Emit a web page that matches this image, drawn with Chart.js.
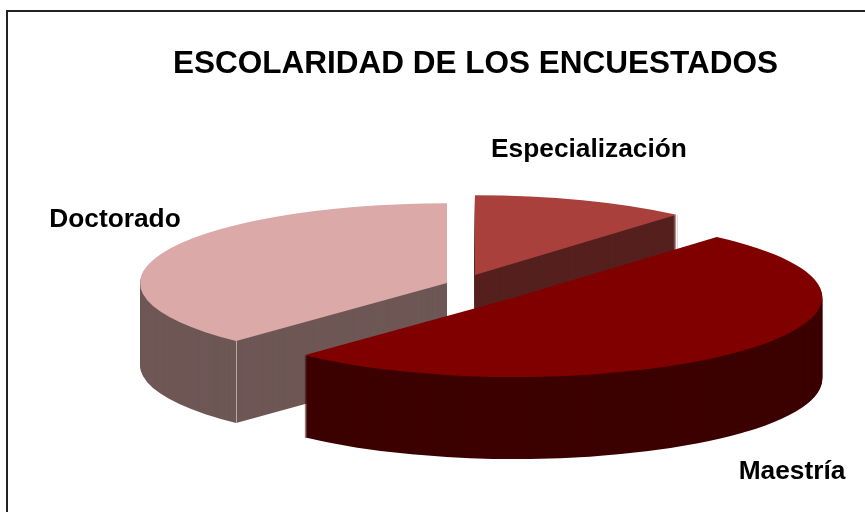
<!DOCTYPE html>
<html>
<head>
<meta charset="utf-8">
<style>html,body{margin:0;padding:0;background:#fff}canvas{display:block}</style>
<script src="https://cdn.jsdelivr.net/npm/chart.js@4"></script>
</head>
<body>
<canvas id="c" width="865" height="512"></canvas>
<script>
const categories = ['Especialización', 'Maestría', 'Doctorado'];
const shares = [11.4, 50.65, 37.95];
const chartTitle = 'ESCOLARIDAD DE LOS ENCUESTADOS';

const topColors = ['#AA403C', '#800000', '#DCA9A9'];
const sideColors = ['#55201E', '#3C0000', '#6E5755'];
const explode = [38.7, 72.7, 15.5];
const drawOrder = [0, 2, 1];
const labelPlaces = [[589, 149.5], [792, 471.5], [115, 219.5]];
const PIE = {cx: 461.4, cy: 284.5, tilt: 0.26, depth: 82, radius: 307};
const FONT = '"Liberation Sans", Arial, sans-serif';

function drawWith(arc, ctx, color) {
  const clone = Object.create(arc);
  clone.options = Object.assign({}, arc.options, {backgroundColor: color});
  arc.draw.call(clone, ctx);
}
function place(ctx, arc, i, dy) {
  const mid = (arc.startAngle + arc.endAngle) / 2;
  ctx.setTransform(1, 0, 0, 1, 0, 0);
  ctx.translate(PIE.cx, PIE.cy + dy);
  ctx.scale(1, PIE.tilt);
  ctx.translate(Math.cos(mid) * explode[i], Math.sin(mid) * explode[i]);
  ctx.translate(-arc.x, -arc.y);
}
const pie3d = {
  id: 'pie3d',
  beforeDraw(chart) {
    const ctx = chart.ctx;
    ctx.save();
    ctx.strokeStyle = '#222222';
    ctx.lineWidth = 2;
    ctx.beginPath();
    ctx.moveTo(7, chart.height + 5);
    ctx.lineTo(7, 11);
    ctx.lineTo(chart.width + 5, 11);
    ctx.stroke();
    ctx.restore();
  },
  beforeDatasetsDraw(chart) {
    const ctx = chart.ctx;
    const arcs = chart.getDatasetMeta(0).data;
    ctx.save();
    drawOrder.forEach(i => {
      const arc = arcs[i];
      for (let dy = PIE.depth; dy > 0; dy -= 1) {
        place(ctx, arc, i, dy);
        drawWith(arc, ctx, sideColors[i]);
      }
      // pale vertical seam on the visible corner
      const seam = i === 0 ? arc.endAngle : (i === 2 ? arc.startAngle : null);
      if (seam !== null) {
        place(ctx, arc, i, 0);
        const x0 = arc.x + Math.cos(seam) * arc.outerRadius;
        const y0 = arc.y + Math.sin(seam) * arc.outerRadius;
        const m = ctx.getTransform();
        const p = m.transformPoint(new DOMPoint(x0, y0));
        ctx.setTransform(1, 0, 0, 1, 0, 0);
        ctx.strokeStyle = 'rgba(220,200,200,0.7)';
        ctx.lineWidth = 1;
        ctx.beginPath();
        ctx.moveTo(Math.round(p.x) + 0.5, p.y);
        ctx.lineTo(Math.round(p.x) + 0.5, p.y + PIE.depth);
        ctx.stroke();
      }
      place(ctx, arc, i, 0);
      arc.draw(ctx);
    });
    ctx.restore();
    return false;
  },
  afterDraw(chart) {
    const ctx = chart.ctx;
    ctx.save();
    ctx.font = 'bold 26.3px ' + FONT;
    ctx.fillStyle = '#000';
    ctx.textAlign = 'center';
    ctx.textBaseline = 'middle';
    categories.forEach((name, i) => ctx.fillText(name, labelPlaces[i][0], labelPlaces[i][1]));
    ctx.restore();
  }
};

new Chart(document.getElementById('c'), {
  type: 'pie',
  data: {
    labels: categories,
    datasets: [{
      data: shares,
      backgroundColor: topColors,
      borderWidth: 0,
      radius: PIE.radius
    }]
  },
  plugins: [pie3d],
  options: {
    responsive: false,
    animation: false,
    layout: {padding: {left: 86}},
    plugins: {
      legend: {display: false},
      tooltip: {enabled: false},
      title: {
        display: true,
        text: chartTitle,
        color: '#000',
        font: {family: FONT, size: 31.5, weight: 'bold'},
        padding: {top: 45, bottom: 0}
      }
    }
  }
});
</script>
</body>
</html>
